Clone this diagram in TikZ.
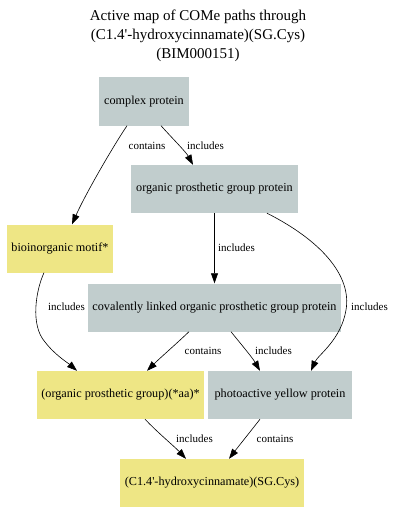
\documentclass[tikz,border=0pt]{standalone}
\usepackage{fontspec}
\setmainfont{Liberation Serif}
\usetikzlibrary{arrows.meta}
\definecolor{grayfill}{RGB}{193,205,205}
\definecolor{yelfill}{RGB}{238,230,133}
\tikzset{
  box/.style={draw=none, inner sep=0pt, minimum height=48pt, font=\fontsize{12.2}{14}\selectfont},
  gbox/.style={box, fill=grayfill},
  ybox/.style={box, fill=yelfill},
  lbl/.style={inner sep=0pt, font=\fontsize{11}{13}\selectfont},
  edge/.style={draw=black, line width=0.6pt, -{Triangle[length=10pt,width=7pt]}},
}
\begin{document}
\begin{tikzpicture}[x=1pt,y=-1pt]
\useasboundingbox[fill=white] (0,0) rectangle (400,524);
\node[align=center, font=\fontsize{15}{19}\selectfont] (title) at (198,36) {Active map of COMe paths through\\(C1.4\textquotesingle-hydroxycinnamate)(SG.Cys)\\(BIM000151)};
\node[gbox, minimum width=90pt] (cp) at (144,101.5) {complex protein};
\node[gbox, minimum width=167pt] (opg) at (214.5,189) {organic prosthetic group protein};
\node[ybox, minimum width=106pt] (bm) at (60,248.5) {bioinorganic motif*};
\node[gbox, minimum width=253pt] (cl) at (214.5,307.5) {covalently linked organic prosthetic group protein};
\node[ybox, minimum width=167pt] (og) at (120.5,395) {(organic prosthetic group)(*aa)*};
\node[gbox, minimum width=144pt] (py) at (280,395) {photoactive yellow protein};
\node[ybox, minimum width=184pt] (hc) at (212,483) {(C1.4\textquotesingle-hydroxycinnamate)(SG.Cys)};
% edges
\draw[edge] ([xshift=-17pt]cp.south) .. controls (112,148) and (85,195) .. ([xshift=12pt]bm.north);
\node[lbl] (l1) at (147,146) {contains};
\draw[edge] ([xshift=17pt]cp.south) .. controls (172,138) and (186,152) .. ([xshift=-21.5pt]opg.north);
\node[lbl] (l2) at (205.5,146) {includes};
\draw[edge] (opg.south) -- (cl.north);
\node[lbl] (l3) at (236.5,248) {includes};
\draw[edge] ([xshift=52.5pt]opg.south) .. controls (320,240) and (352,275) .. (346,310) .. controls (341,340) and (318,355) .. ([xshift=31pt]py.north);
\node[lbl] (l4) at (369.5,307) {includes};
\draw[edge] ([xshift=-16pt]bm.south) .. controls (36,290) and (30,325) .. (45,342) .. controls (55,355) and (68,363) .. ([xshift=-43.5pt]og.north);
\node[lbl] (l5) at (66.5,307) {includes};
\draw[edge] ([xshift=-25.5pt]cl.south) .. controls (175,345) and (160,358) .. ([xshift=26.5pt]og.north);
\node[lbl] (l6) at (203,351) {contains};
\draw[edge] ([xshift=16.5pt]cl.south) .. controls (240,343) and (252,357) .. ([xshift=-20pt]py.north);
\node[lbl] (l7) at (273.5,351) {includes};
\draw[edge] ([xshift=24.5pt]og.south) .. controls (157,432) and (175,447) .. ([xshift=-26pt]hc.north);
\node[lbl] (l8) at (194.5,439) {includes};
\draw[edge] ([xshift=-20pt]py.south) .. controls (250,432) and (238,447) .. ([xshift=17pt]hc.north);
\node[lbl] (l9) at (275,439) {contains};
\end{tikzpicture}
\end{document}
